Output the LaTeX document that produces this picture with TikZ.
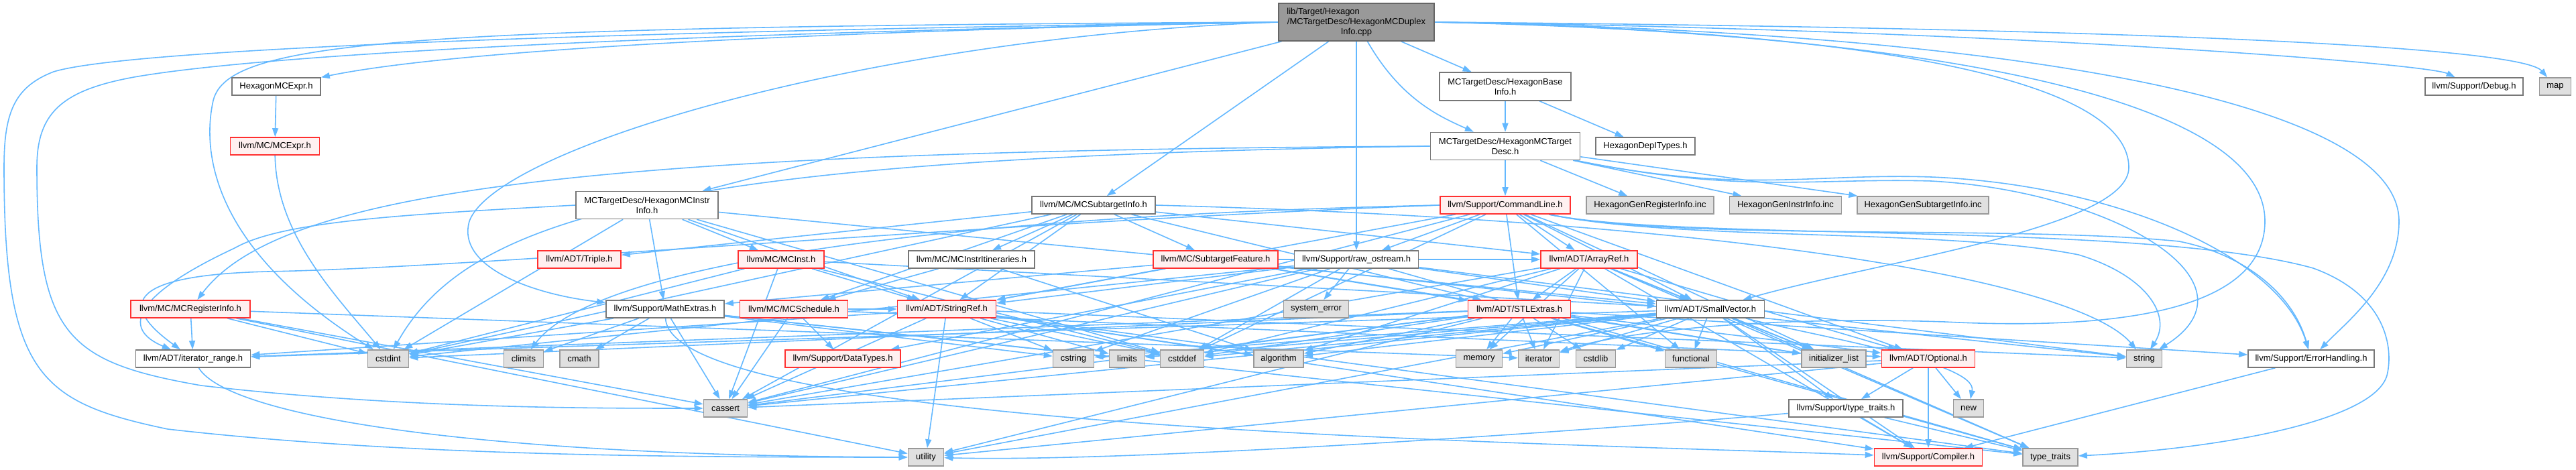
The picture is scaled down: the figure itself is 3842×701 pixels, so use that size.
\documentclass[tikz,border=0pt]{standalone}
\usepackage{fontspec}
\setmainfont{Liberation Sans}
\usetikzlibrary{arrows.meta}
\pgfdeclarelayer{back}
\pgfdeclarelayer{bg}
\pgfsetlayers{back,bg,main}
\definecolor{eb}{HTML}{63B8FF}
\definecolor{wb}{HTML}{777777}
\definecolor{gb}{HTML}{999999}
\definecolor{gf}{HTML}{E0E0E0}
\definecolor{rf}{HTML}{FFF0F0}
\definecolor{rb}{HTML}{FF3030}
\definecolor{mf}{HTML}{999999}
\definecolor{mb}{HTML}{666666}
\newcommand{\fsz}{\fontsize{3.7}{4.25}\selectfont}
\begin{document}
\begin{tikzpicture}[x=0.01cm,y=-0.01cm,
 nb/.style={draw, line width=0.45pt, inner sep=0pt, minimum height=0.26cm, font=\fsz, align=center},
 wn/.style={nb, draw=wb, fill=white},
 rn/.style={nb, draw=rb, fill=rf},
 gn/.style={nb, draw=gb, fill=gf},
 dep/.style={draw=eb, line width=0.45pt, -{Triangle[length=0.13cm,width=0.09cm]}}]
\useasboundingbox (0,0) rectangle (3842,701);
\begin{pgfonlayer}{back}
\fill[white] (0,0) rectangle (3842,701);
\end{pgfonlayer}
% nodes
\node[nb, fill=mf, draw=mb, minimum width=2.32cm, minimum height=0.56cm] (main) at (2023,33) {\makebox[2.07cm][l]{lib/Target/Hexagon}\\/MCTargetDesc/HexagonMCDuplex\\Info.cpp};
\node[wn, minimum width=1.32cm] (mcexprH) at (412,129) {HexagonMCExpr.h};
\node[wn, minimum width=1.96cm, minimum height=0.42cm] (baseinfo) at (2245,129) {MCTargetDesc/HexagonBase\\Info.h};
\node[wn, minimum width=1.46cm] (debug) at (3690,129) {llvm/Support/Debug.h};
\node[gn, minimum width=0.47cm] (map) at (3811,129) {map};
\node[rn, minimum width=1.33cm] (mcexpr) at (410,218) {llvm/MC/MCExpr.h};
\node[wn, minimum width=2.23cm, minimum height=0.41cm] (mctargetdesc) at (2245,218) {MCTargetDesc/HexagonMCTarget\\Desc.h};
\node[wn, minimum width=1.48cm] (depitypes) at (2454,218) {HexagonDepITypes.h};
\node[wn, minimum width=2.12cm, minimum height=0.41cm] (mcinstrinfo) at (965,306) {MCTargetDesc/HexagonMCInstr\\Info.h};
\node[wn, minimum width=1.84cm] (mcsubtarget) at (1631,306) {llvm/MC/MCSubtargetInfo.h};
\node[rn, minimum width=1.94cm] (commandline) at (2245,306) {llvm/Support/CommandLine.h};
\node[gn, minimum width=1.90cm] (genreg) at (2461,306) {HexagonGenRegisterInfo.inc};
\node[gn, minimum width=1.67cm] (geninstr) at (2663,306) {HexagonGenInstrInfo.inc};
\node[gn, minimum width=1.96cm] (gensub) at (2868,306) {HexagonGenSubtargetInfo.inc};
\node[rn, minimum width=1.24cm] (triple) at (864,387) {llvm/ADT/Triple.h};
\node[rn, minimum width=1.28cm] (mcinst) at (1165,387) {llvm/MC/MCInst.h};
\node[wn, minimum width=1.88cm] (itin) at (1449,387) {llvm/MC/MCInstrItineraries.h};
\node[rn, minimum width=1.86cm] (subfeature) at (1813,387) {llvm/MC/SubtargetFeature.h};
\node[wn, minimum width=1.85cm] (rawostream) at (2023,387) {llvm/Support/raw\_ostream.h};
\node[rn, minimum width=1.44cm] (arrayref) at (2370,387) {llvm/ADT/ArrayRef.h};
\node[rn, minimum width=1.78cm] (mcreginfo) at (284,461) {llvm/MC/MCRegisterInfo.h};
\node[wn, minimum width=1.76cm] (mathextras) at (992,461) {llvm/Support/MathExtras.h};
\node[rn, minimum width=1.61cm] (mcsched) at (1184,461) {llvm/MC/MCSchedule.h};
\node[rn, minimum width=1.47cm] (stringref) at (1412,461) {llvm/ADT/StringRef.h};
\node[gn, minimum width=0.97cm] (syserr) at (1963,461) {system\_error};
\node[rn, minimum width=1.53cm] (stlextras) at (2266,461) {llvm/ADT/STLExtras.h};
\node[wn, minimum width=1.61cm] (smallvector) at (2551,461) {llvm/ADT/SmallVector.h};
\node[wn, minimum width=1.71cm] (itrange) at (288,535) {llvm/ADT/iterator\_range.h};
\node[gn, minimum width=0.61cm] (cstdint) at (579,535) {cstdint};
\node[gn, minimum width=0.59cm] (climits) at (781,535) {climits};
\node[gn, minimum width=0.58cm] (cmath) at (864,535) {cmath};
\node[rn, minimum width=1.72cm] (datatypes) at (1257,535) {llvm/Support/DataTypes.h};
\node[gn, minimum width=0.61cm] (cstring) at (1601,535) {cstring};
\node[gn, minimum width=0.53cm] (limits) at (1681,535) {limits};
\node[gn, minimum width=0.65cm] (cstddef) at (1763,535) {cstddef};
\node[gn, minimum width=0.74cm] (algorithm) at (1907,535) {algorithm};
\node[gn, minimum width=0.69cm] (memory) at (2206,535) {memory};
\node[gn, minimum width=0.61cm] (iterator) at (2295,535) {iterator};
\node[gn, minimum width=0.59cm] (cstdlib) at (2380,535) {cstdlib};
\node[gn, minimum width=0.77cm] (functional) at (2522,535) {functional};
\node[gn, minimum width=0.96cm] (initlist) at (2735,535) {initializer\_list};
\node[rn, minimum width=1.39cm] (optional) at (2876,535) {llvm/ADT/Optional.h};
\node[gn, minimum width=0.53cm] (string) at (3198,535) {string};
\node[wn, minimum width=1.88cm] (errhandling) at (3447,535) {llvm/Support/ErrorHandling.h};
\node[gn, minimum width=0.65cm] (cassert) at (1082,609) {cassert};
\node[wn, minimum width=1.70cm] (typetraitsH) at (2753,609) {llvm/Support/type\_traits.h};
\node[gn, minimum width=0.45cm] (new) at (2936,609) {new};
\node[gn, minimum width=0.53cm] (utility) at (1381,682) {utility};
\node[rn, minimum width=1.61cm] (compiler) at (2876,682) {llvm/Support/Compiler.h};
\node[gn, minimum width=0.82cm] (typetraits) at (3058,682) {type\_traits};
% edges
\begin{pgfonlayer}{bg}
\foreach \a/\b in {main/baseinfo, main/mcinstrinfo, main/mcsubtarget, main/rawostream,
 mcexprH/mcexpr, baseinfo/mctargetdesc, baseinfo/depitypes,
 mctargetdesc/commandline, mctargetdesc/genreg, mctargetdesc/geninstr, mctargetdesc/gensub,
 mcinstrinfo/mcinst, mcinstrinfo/mathextras, mcinstrinfo/stringref, mcinstrinfo/smallvector, mcinstrinfo/cstdint, mcinstrinfo/cstddef,
 mcsubtarget/triple, mcsubtarget/itin, mcsubtarget/subfeature, mcsubtarget/mcsched, mcsubtarget/stringref, mcsubtarget/arrayref, mcsubtarget/stlextras, mcsubtarget/cassert, mcsubtarget/cstdint,
 commandline/arrayref, commandline/stlextras, commandline/smallvector, commandline/stringref, commandline/rawostream, commandline/optional, commandline/cassert, commandline/cstddef, commandline/functional, commandline/initlist,
 mcinst/smallvector, mcinst/stringref, mcinst/cassert, mcinst/cstddef, mcinst/cstdint,
 itin/mcsched, itin/algorithm,
 subfeature/arrayref, subfeature/stlextras, subfeature/stringref, subfeature/mathextras, subfeature/initlist, subfeature/string,
 rawostream/syserr, rawostream/smallvector, rawostream/stringref, rawostream/datatypes, rawostream/cassert, rawostream/cstddef, rawostream/cstdint, rawostream/cstring, rawostream/string, rawostream/typetraits,
 arrayref/stlextras, arrayref/smallvector, arrayref/optional, arrayref/algorithm, arrayref/cassert, arrayref/cstddef, arrayref/initlist, arrayref/iterator, arrayref/memory, arrayref/compiler, arrayref/typetraits,
 mcreginfo/itrange, mcreginfo/cstdint, mcreginfo/cassert, mcreginfo/utility, mcreginfo/iterator,
 mathextras/climits, mathextras/cmath, mathextras/cassert, mathextras/cstdint, mathextras/cstring, mathextras/limits, mathextras/typetraits,
 mcsched/datatypes, mcsched/cassert, mcsched/stringref, mcsched/optional,
 stringref/itrange, stringref/algorithm, stringref/cassert, stringref/cstddef, stringref/cstring, stringref/limits, stringref/utility, stringref/compiler, stringref/string, stringref/typetraits,
 stlextras/optional, stlextras/itrange, stlextras/errhandling, stlextras/algorithm, stlextras/cassert, stlextras/cstddef, stlextras/cstdint, stlextras/cstdlib, stlextras/functional, stlextras/initlist, stlextras/iterator, stlextras/limits, stlextras/memory, stlextras/utility, stlextras/typetraits,
 smallvector/itrange, smallvector/typetraitsH, smallvector/algorithm, smallvector/cassert, smallvector/cstddef, smallvector/cstdlib, smallvector/cstring, smallvector/functional, smallvector/initlist, smallvector/iterator, smallvector/limits, smallvector/memory, smallvector/utility, smallvector/compiler, smallvector/typetraits,
 optional/typetraitsH, optional/compiler, optional/new, optional/cassert, optional/utility,
 typetraitsH/compiler, typetraitsH/typetraits,
 errhandling/compiler}
 \draw[dep] (\a) -- (\b);
% curved connectors
\draw[dep] (main) .. controls (2090,150) and (2150,175) .. (mctargetdesc);
\draw[dep] (main.west) .. controls (1300,45) and (700,70) .. (mcexprH);
\draw[dep] (main.east) .. controls (3000,45) and (3620,95) .. (debug);
\draw[dep] (main.east) .. controls (3200,42) and (3760,70) .. (map);
\draw[dep] (main.east) .. controls (3000,48) and (3578,150) .. (3578,330) .. controls (3578,420) and (3500,480) .. (errhandling);
\draw[dep] (main.east) .. controls (2800,46) and (3175,120) .. (3175,250) .. controls (3175,340) and (2800,390) .. (smallvector);
\draw[dep] (main.east) .. controls (2900,50) and (3378,150) .. (3378,330) .. controls (3378,480) and (3100,490) .. (2900,480) .. controls (2600,470) and (2400,500) .. (iterator);
\draw[dep] (main.west) .. controls (600,40) and (340,60) .. (318,150) .. controls (298,240) and (330,380) .. (cstdint);
\draw[dep] (main.west) .. controls (1000,50) and (400,80) .. (200,115) .. controls (90,135) and (55,170) .. (55,250) .. controls (55,500) and (100,540) .. (300,575) .. controls (600,610) and (900,609) .. (cassert);
\draw[dep] (main.west) .. controls (1000,45) and (200,70) .. (80,107) .. controls (20,130) and (6,170) .. (6,250) .. controls (6,560) and (60,600) .. (250,640) .. controls (600,680) and (1000,682) .. (utility);
\draw[dep] (main.west) .. controls (1300,55) and (740,220) .. (700,330) .. controls (680,400) and (800,440) .. (mathextras);
\draw[dep] (mcexpr) .. controls (412,350) and (500,440) .. (cstdint);
\draw[dep] (mctargetdesc.west) .. controls (900,225) and (420,280) .. (mcreginfo);
\draw[dep] (mctargetdesc.west) .. controls (1000,235) and (700,320) .. (cstdint);
\draw[dep] (mctargetdesc) .. controls (2600,290) and (2700,265) .. (2880,270) .. controls (3150,285) and (3380,420) .. (string);
\draw[dep] (mctargetdesc) .. controls (2600,290) and (2700,258) .. (2880,264) .. controls (3150,275) and (3400,380) .. (errhandling);
\draw[dep] (mcinstrinfo.west) .. controls (600,320) and (420,330) .. (350,370) .. controls (200,440) and (180,490) .. (itrange);
\draw[dep] (mcsubtarget.east) .. controls (2600,330) and (3100,420) .. (string);
\draw[dep] (commandline.west) .. controls (1500,320) and (900,380) .. (climits);
\draw[dep] (commandline.west) .. controls (1500,330) and (700,400) .. (400,405) .. controls (200,410) and (170,450) .. (itrange);
\draw[dep] (commandline) .. controls (2500,360) and (3000,335) .. (3250,360) .. controls (3350,380) and (3420,440) .. (errhandling);
\draw[dep] (commandline) .. controls (2500,360) and (2900,340) .. (3100,380) .. controls (3200,410) and (3240,470) .. (string);
\draw[dep] (commandline) .. controls (2500,360) and (3200,330) .. (3450,400) .. controls (3560,440) and (3570,520) .. (3560,560) .. controls (3540,630) and (3300,670) .. (typetraits);
\draw[dep] (itrange) .. controls (340,620) and (700,680) .. (utility);
\draw[dep] (typetraitsH) .. controls (2400,640) and (1700,690) .. (utility);
\draw[dep] (mathextras) .. controls (1000,640) and (2300,660) .. (compiler);
\draw[dep] (smallvector) .. controls (2700,500) and (2950,540) .. (new);
\end{pgfonlayer}
\end{tikzpicture}
\end{document}
